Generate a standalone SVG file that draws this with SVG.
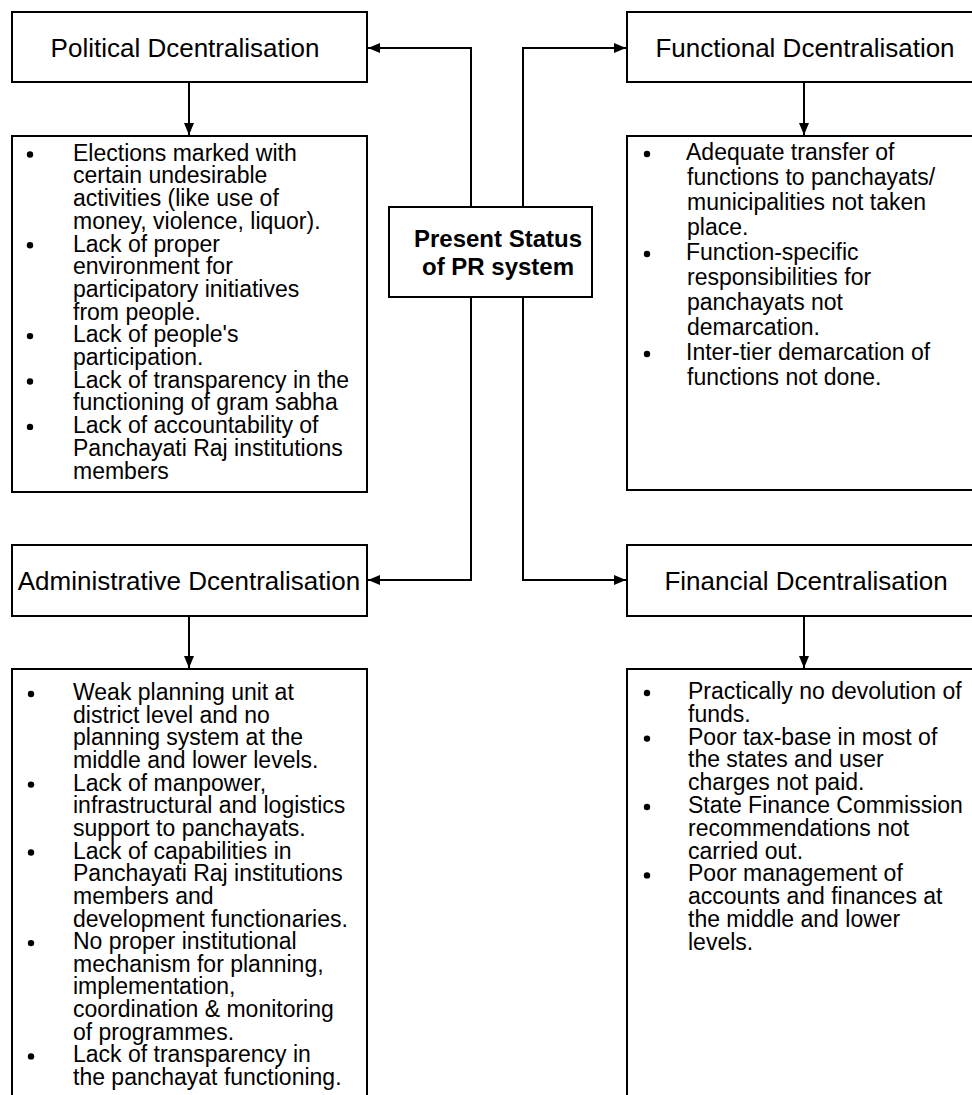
<svg xmlns="http://www.w3.org/2000/svg" width="972" height="1095" viewBox="0 0 972 1095">
<style>
.box{fill:#fff;stroke:#000;stroke-width:2}
.hd{font-family:"Liberation Sans",Arial,sans-serif;font-size:26px;fill:#000;text-anchor:middle}
.bt{font-family:"Liberation Sans",Arial,sans-serif;font-size:23px;fill:#000}
.ct{font-family:"Liberation Sans",Arial,sans-serif;font-size:24px;font-weight:bold;fill:#000;text-anchor:middle}
.cn{fill:none;stroke:#000;stroke-width:2}
.dot{fill:#000}
</style>
<defs>
<marker id="ah" markerWidth="12" markerHeight="10" refX="12" refY="5" orient="auto" markerUnits="userSpaceOnUse">
<path d="M0,0 L12,5 L0,10 Z" fill="#000"/>
</marker>
</defs>
<rect width="972" height="1095" fill="#fff"/>

<g id="connectors">
<path class="cn" d="M471,207 V48 H368" marker-end="url(#ah)"/>
<path class="cn" d="M523,207 V48 H626" marker-end="url(#ah)"/>
<path class="cn" d="M471,297 V580 H368" marker-end="url(#ah)"/>
<path class="cn" d="M523,297 V580 H626" marker-end="url(#ah)"/>
<path class="cn" d="M189,82 V135" marker-end="url(#ah)"/>
<path class="cn" d="M804,82 V135" marker-end="url(#ah)"/>
<path class="cn" d="M189,616 V668" marker-end="url(#ah)"/>
<path class="cn" d="M804,616 V668" marker-end="url(#ah)"/>
</g>

<g id="present-status">
<rect class="box" x="389" y="207" width="203" height="90"/>
<text class="ct" x="498" y="247">Present Status</text>
<text class="ct" x="498" y="275">of PR system</text>
</g>

<g id="political">
<rect class="box" x="12" y="12" width="355" height="70"/>
<text class="hd" x="185" y="57">Political Dcentralisation</text>
</g>

<g id="functional">
<rect class="box" x="627" y="12" width="360" height="70"/>
<text class="hd" x="805" y="57">Functional Dcentralisation</text>
</g>

<g id="administrative">
<rect class="box" x="12" y="545" width="355" height="71"/>
<text class="hd" x="189" y="590">Administrative Dcentralisation</text>
</g>

<g id="financial">
<rect class="box" x="627" y="545" width="360" height="71"/>
<text class="hd" x="806" y="590">Financial Dcentralisation</text>
</g>

<g id="political-points">
<rect class="box" x="12" y="136" width="355" height="356"/>
<circle class="dot" cx="30" cy="154.5" r="3.2"/>
<circle class="dot" cx="30" cy="245.3" r="3.2"/>
<circle class="dot" cx="30" cy="336.1" r="3.2"/>
<circle class="dot" cx="30" cy="381.5" r="3.2"/>
<circle class="dot" cx="30" cy="426.9" r="3.2"/>
<text class="bt" y="160.7">
<tspan x="73">Elections marked with</tspan>
<tspan x="73" dy="22.7">certain undesirable</tspan>
<tspan x="73" dy="22.7">activities (like use of</tspan>
<tspan x="73" dy="22.7">money, violence, liquor).</tspan>
<tspan x="73" dy="22.7">Lack of proper</tspan>
<tspan x="73" dy="22.7">environment for</tspan>
<tspan x="73" dy="22.7">participatory initiatives</tspan>
<tspan x="73" dy="22.7">from people.</tspan>
<tspan x="73" dy="22.7">Lack of people's</tspan>
<tspan x="73" dy="22.7">participation.</tspan>
<tspan x="73" dy="22.7">Lack of transparency in the</tspan>
<tspan x="73" dy="22.7">functioning of gram sabha</tspan>
<tspan x="73" dy="22.7">Lack of accountability of</tspan>
<tspan x="73" dy="22.7">Panchayati Raj institutions</tspan>
<tspan x="73" dy="22.7">members</tspan>
</text>
</g>

<g id="functional-points">
<rect class="box" x="627" y="136" width="360" height="354"/>
<circle class="dot" cx="647" cy="154" r="3.2"/>
<circle class="dot" cx="647" cy="254" r="3.2"/>
<circle class="dot" cx="647" cy="354" r="3.2"/>
<text class="bt" y="160">
<tspan x="686">Adequate transfer of</tspan>
<tspan x="687" dy="25">functions to panchayats/</tspan>
<tspan x="687" dy="25">municipalities not taken</tspan>
<tspan x="687" dy="25">place.</tspan>
<tspan x="686" dy="25">Function-specific</tspan>
<tspan x="687" dy="25">responsibilities for</tspan>
<tspan x="687" dy="25">panchayats not</tspan>
<tspan x="687" dy="25">demarcation.</tspan>
<tspan x="686" dy="25">Inter-tier demarcation of</tspan>
<tspan x="687" dy="25">functions not done.</tspan>
</text>
</g>

<g id="administrative-points">
<rect class="box" x="12" y="669" width="355" height="440"/>
<circle class="dot" cx="31" cy="694" r="3.2"/>
<circle class="dot" cx="31" cy="784.6" r="3.2"/>
<circle class="dot" cx="31" cy="852.5" r="3.2"/>
<circle class="dot" cx="31" cy="943.1" r="3.2"/>
<circle class="dot" cx="31" cy="1056.4" r="3.2"/>
<text class="bt" y="700">
<tspan x="73">Weak planning unit at</tspan>
<tspan x="73" dy="22.65">district level and no</tspan>
<tspan x="73" dy="22.65">planning system at the</tspan>
<tspan x="73" dy="22.65">middle and lower levels.</tspan>
<tspan x="73" dy="22.65">Lack of manpower,</tspan>
<tspan x="73" dy="22.65">infrastructural and logistics</tspan>
<tspan x="73" dy="22.65">support to panchayats.</tspan>
<tspan x="73" dy="22.65">Lack of capabilities in</tspan>
<tspan x="73" dy="22.65">Panchayati Raj institutions</tspan>
<tspan x="73" dy="22.65">members and</tspan>
<tspan x="73" dy="22.65">development functionaries.</tspan>
<tspan x="73" dy="22.65">No proper institutional</tspan>
<tspan x="73" dy="22.65">mechanism for planning,</tspan>
<tspan x="73" dy="22.65">implementation,</tspan>
<tspan x="73" dy="22.65">coordination &amp; monitoring</tspan>
<tspan x="73" dy="22.65">of programmes.</tspan>
<tspan x="73" dy="22.65">Lack of transparency in</tspan>
<tspan x="73" dy="22.65">the panchayat functioning.</tspan>
</text>
</g>

<g id="financial-points">
<rect class="box" x="627" y="669" width="360" height="440"/>
<circle class="dot" cx="647" cy="693" r="3.2"/>
<circle class="dot" cx="647" cy="738.6" r="3.2"/>
<circle class="dot" cx="647" cy="807" r="3.2"/>
<circle class="dot" cx="647" cy="875.4" r="3.2"/>
<text class="bt" y="699">
<tspan x="688">Practically no devolution of</tspan>
<tspan x="688" dy="22.8">funds.</tspan>
<tspan x="688" dy="22.8">Poor tax-base in most of</tspan>
<tspan x="688" dy="22.8">the states and user</tspan>
<tspan x="688" dy="22.8">charges not paid.</tspan>
<tspan x="688" dy="22.8">State Finance Commission</tspan>
<tspan x="688" dy="22.8">recommendations not</tspan>
<tspan x="688" dy="22.8">carried out.</tspan>
<tspan x="688" dy="22.8">Poor management of</tspan>
<tspan x="688" dy="22.8">accounts and finances at</tspan>
<tspan x="688" dy="22.8">the middle and lower</tspan>
<tspan x="688" dy="22.8">levels.</tspan>
</text>
</g>
</svg>
